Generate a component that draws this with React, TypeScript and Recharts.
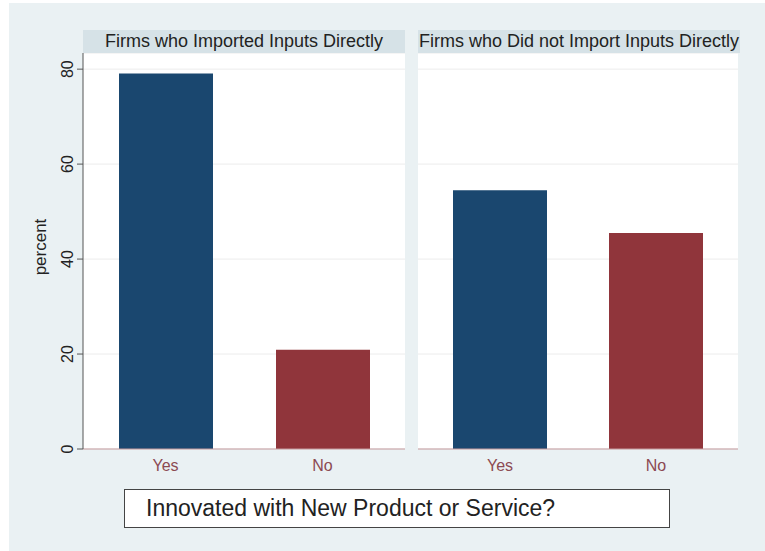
import { Bar, BarChart, CartesianGrid, Cell, XAxis, YAxis } from 'recharts'

const categories = ['Yes', 'No']
const importedValues = [79.1, 20.9]
const notImportedValues = [54.5, 45.5]
const panelTitles = ['Firms who Imported Inputs Directly', 'Firms who Did not Import Inputs Directly']
const yTicks = [0, 20, 40, 60, 80]
const legendText = 'Innovated with New Product or Service?'

const BAR_COLORS = ['#1a476f', '#90353b']
const FONT = '"Liberation Sans", Arial, sans-serif'
const BG = '#eaf1f3'
const STRIP = '#d6e2e7'

const toRows = (values: number[]) => categories.map((c, i) => ({ category: c, value: values[i] }))

function YTick(props: any) {
  const { x, y, payload } = props
  const bx = x - 2
  return (
    <text
      x={bx}
      y={y}
      transform={`rotate(-90, ${bx}, ${y})`}
      textAnchor="middle"
      fontSize={16}
      fill="#222"
      fontFamily={FONT}
    >
      {payload.value}
    </text>
  )
}

function Panel({ values, showAxis }: { values: number[]; showAxis: boolean }) {
  return (
    <BarChart
      width={showAxis ? 410 : 330}
      height={551}
      data={toRows(values)}
      margin={{ top: 53, right: 5, bottom: 72, left: showAxis ? 38 : 5 }}
      style={{ fontFamily: FONT }}
    >
      <CartesianGrid vertical={false} stroke="#ececec" fill="#ffffff" />
      <XAxis
        dataKey="category"
        padding={{ left: 4, right: 4 }}
        height={30}
        stroke="#c49a9e"
        tickLine={false}
        tick={{ fill: '#8c4a52', fontSize: 16 }}
        tickMargin={5}
      />
      <YAxis
        hide={!showAxis}
        width={45}
        domain={[0, 83.4]}
        ticks={yTicks}
        stroke="#555"
        tickSize={6}
        tick={<YTick />}
        label={{
          value: 'percent',
          angle: -90,
          position: 'insideLeft',
          offset: 0,
          dx: 2,
          dy: -4,
          style: { textAnchor: 'middle', fontSize: 17, fill: '#222' },
        }}
      />
      <Bar dataKey="value" barSize={94} isAnimationActive={false}>
        {categories.map((c, i) => (
          <Cell key={c} fill={BAR_COLORS[i]} />
        ))}
      </Bar>
    </BarChart>
  )
}

const stripStyle = (left: number, width: number): React.CSSProperties => ({
  position: 'absolute',
  left,
  top: 30,
  width,
  height: 23,
  background: STRIP,
  fontFamily: FONT,
  fontSize: 18,
  color: '#222',
  textAlign: 'center',
  lineHeight: '23px',
  whiteSpace: 'nowrap',
})

export default function App() {
  return (
    <div style={{ position: 'absolute', left: 0, top: 0, width: 765, height: 551, background: '#fff' }}>
      <div style={{ position: 'absolute', left: 9, top: 3, width: 756, height: 548, background: BG }} />
      <div style={{ position: 'absolute', left: 0, top: 0 }}>
        <Panel values={importedValues} showAxis />
      </div>
      <div style={{ position: 'absolute', left: 413, top: 0 }}>
        <Panel values={notImportedValues} showAxis={false} />
      </div>
      <div style={stripStyle(83, 322)}>{panelTitles[0]}</div>
      <div style={stripStyle(418, 322)}>{panelTitles[1]}</div>
      <div
        style={{
          position: 'absolute',
          left: 124,
          top: 489,
          width: 546,
          height: 39,
          boxSizing: 'border-box',
          border: '1.5px solid #444',
          background: '#fff',
          fontFamily: FONT,
          fontSize: 23,
          color: '#222',
          lineHeight: '36px',
          paddingLeft: 21,
          whiteSpace: 'nowrap',
        }}
      >
        {legendText}
      </div>
    </div>
  )
}
